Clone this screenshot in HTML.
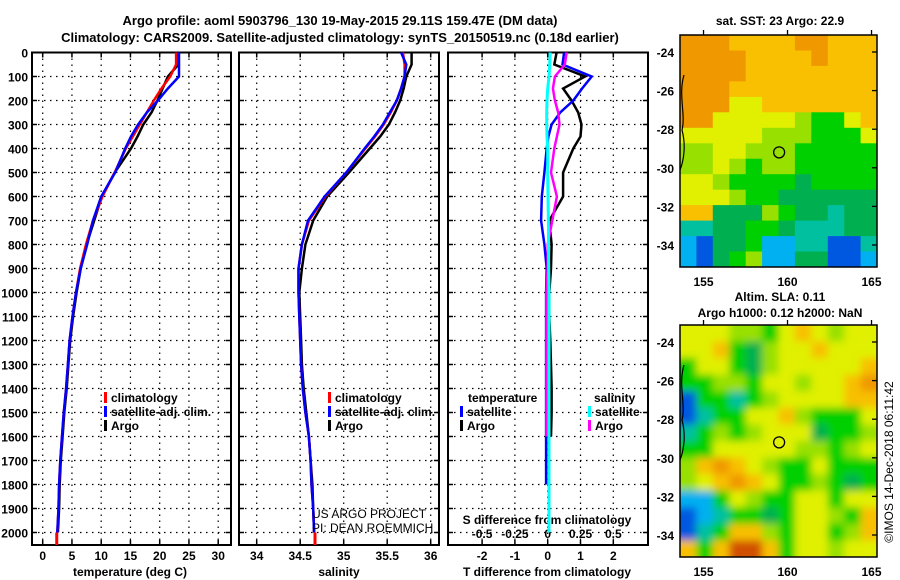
<!DOCTYPE html>
<html><head><meta charset="utf-8"><style>
body{margin:0;background:#fff;}
svg{display:block;font-family:"Liberation Sans",sans-serif;}
.t{font-weight:bold;font-size:13px;fill:#000;}
.s{font-weight:bold;font-size:12px;fill:#000;}
</style></head><body>
<svg id="fig" width="900" height="580" viewBox="0 0 900 580" xmlns="http://www.w3.org/2000/svg">
<defs>
<filter id="blur" x="-5%" y="-5%" width="110%" height="110%"><feGaussianBlur stdDeviation="4"/></filter>
<clipPath id="clipTop"><rect x="680" y="35" width="197" height="232"/></clipPath>
<clipPath id="clipBot"><rect x="680" y="325" width="197" height="232"/></clipPath>
</defs>
<text class="t" x="340" y="25" text-anchor="middle">Argo profile: aoml 5903796_130 19-May-2015 29.11S 159.47E (DM data)</text>
<text class="t" x="340" y="42" text-anchor="middle">Climatology: CARS2009. Satellite-adjusted climatology: synTS_20150519.nc (0.18d earlier)</text>
<g id="g"></g>
</svg>
<script>
// ---------- data ----------
const depths = [0,50,100,150,200,250,300,350,400,500,600,700,800,900,1000,1100,1200,1300,1400,1500,1600,1700,1800,1900,2000];
const tempClim = [22.8,22.8,21.8,20.3,19.0,17.8,16.6,15.4,14.2,12.3,10.2,8.6,7.4,6.4,5.7,5.1,4.6,4.3,4.0,3.6,3.3,3.0,2.8,2.7,2.5];
const tempSat  = [23.3,23.3,23.3,21.4,19.7,17.8,16.3,15.1,14.1,12.4,10.0,8.6,7.6,6.5,5.7,5.1,4.6,4.3,4.0,3.6,3.3,3.0,2.8,2.7,2.5];
const tempArgo = [23.2,23.2,21.4,20.5,19.6,18.6,17.2,16.2,15.1,12.3,10.1,8.8,7.5,6.5,5.8,5.2,4.7,4.4,4.1,3.7,3.4,3.1,2.9,2.8,2.6];
const salClim = [35.68,35.70,35.70,35.66,35.61,35.54,35.46,35.36,35.25,35.03,34.79,34.60,34.52,34.48,34.48,34.49,34.50,34.51,34.53,34.56,34.60,34.62,34.63,34.65,34.66];
const salSat  = [35.66,35.72,35.70,35.66,35.61,35.53,35.45,35.35,35.24,35.03,34.78,34.59,34.52,34.48,34.48,34.49,34.50,34.51,34.53,34.56,34.60,34.62,34.63,34.65,34.66];
const salArgo = [35.78,35.78,35.72,35.69,35.65,35.59,35.52,35.42,35.30,35.06,34.81,34.65,34.56,34.52,34.49,34.50,34.51,34.52,34.54,34.57,34.60,34.62,34.64,34.65,34.66];
const dTempSat  = [0.50,0.45,1.34,1.05,0.78,0.38,0.12,0.02,-0.03,-0.10,-0.18,-0.20,-0.10,-0.03,-0.05,-0.05,-0.05,-0.05,-0.05,-0.05,-0.05,-0.05,-0.05];
const dTempArgo = [0.27,0.20,1.14,0.47,0.73,0.93,1.03,1.00,0.78,0.47,0.47,0.05,0.12,0.10,0.05,0.05,0.08,0.10,0.12,0.12,0.10];
const dSalArgo  = [0.145,0.13,0.055,0.04,0.055,0.08,0.09,0.07,0.05,0.025,0.07,0.035,0.0,0.0,-0.01,-0.01,-0.01,-0.01,-0.01,-0.01,-0.01];
const dSalSat   = [0.018,0.015,0.01,0.0,-0.005,-0.008,-0.008,-0.005,0.0,0.0,0.002,0.005,0.006,0.008,0.01,0.01,0.01,0.01,0.01,0.01,0.01,0.01,0.01,0.01,0.01];
const depthTicks = [0,100,200,300,400,500,600,700,800,900,1000,1100,1200,1300,1400,1500,1600,1700,1800,1900,2000];
const tempTicks = [0,5,10,15,20,25,30];
const salTicks = [34,34.5,35,35.5,36];
const salTickLabels = ["34","34.5","35","35.5","36"];
const dTTicks = [-2,-1,0,1,2];
const dSTicks = [-0.5,-0.25,0,0.25,0.5];
const dSTickLabels = ["-0.5","-0.25","0","0.25","0.5"];
const latTicks = [-24,-26,-28,-30,-32,-34];
const lonTicks = [155,160,165];
const sstGrid = [
"OOOooooOOooo","OOOOooooOooo","OOOOoooooooo","OOOooooooooo","OOOyyooooooo",
"OOyyyyyLGGyo","yyyyyLLLGGGy","LLyyLLLGGGGG","LLyLGLLGGGGG","yyLGGGGgGGGG",
"yyyLGGgggggg","oogggLGggTgg","TTggGGgTTTgg","CBggGCCTTBBT","CBgGLCCggBBC"];
const slaGrid = [
"yyyLLGyoyLyy","yyoGgLyyoyyy","GyyGgLyyyyyo","GGLLGyyLyyoO","BGGTGLyyyyoo",
"BTGGyyoLGGGy","TGLGLyyygGGL","GGyyyyyLLGLy","LoOoyLGGyGGG","LyoOoyGGLGgG",
"CCGyLGGyyGyy","BCTGGgGyyLGo","BTGooLGyyGLo","oGoRRoGyyLyy"];
const palette = {O:"#f09800",o:"#f8c000",Y:"#f0e000",y:"#e0f000",L:"#98e000",G:"#00d000",g:"#00b050",T:"#00c0a0",C:"#00b0f0",B:"#0058e0",R:"#d05000"};

// ---------- helpers ----------
const NS="http://www.w3.org/2000/svg";
const G=document.getElementById('g');
function mk(tag,attrs,parent){const e=document.createElementNS(NS,tag);for(const k in attrs)e.setAttribute(k,attrs[k]);(parent||G).appendChild(e);return e;}
const yTop=52.5, yPer=0.24, yBot=545;
const yD=d=>yTop+d*yPer;
const xT=v=>42.7+v*5.85;
const xS=v=>256.7+(v-34)*87;
const xDT=v=>547.7+v*32.8;
const xDS=v=>547.7+v*131.2;

function panel(x0,x1,name,xs,vTicks){
  for(const v of vTicks){const x=xs(v);
    const l=mk('line',{x1:x,x2:x,y1:yTop,y2:yBot,stroke:'#000','stroke-width':1.2,'stroke-dasharray':'1.5,4.5'});
    
    mk('line',{x1:x,x2:x,y1:yBot,y2:yBot-5,stroke:'#000','stroke-width':1.5});
    mk('line',{x1:x,x2:x,y1:yTop,y2:yTop+5,stroke:'#000','stroke-width':1.5});}
  for(const d of depthTicks){if(d===0)continue;const y=yD(d);
    const l=mk('line',{x1:x0,x2:x1,y1:y,y2:y,stroke:'#000','stroke-width':1.2,'stroke-dasharray':'1.5,4.5'});
    
    mk('line',{x1:x0,x2:x0+5,y1:y,y2:y,stroke:'#000','stroke-width':1.5});
    mk('line',{x1:x1-5,x2:x1,y1:y,y2:y,stroke:'#000','stroke-width':1.5});}
  const r=mk('rect',{x:x0,y:yTop,width:x1-x0,height:yBot-yTop,fill:'none',stroke:'#000','stroke-width':2});
  
}
function prof(xs,vals,color,name,w){
  let p='';vals.forEach((v,i)=>{p+=(i?'L':'M')+xs(v).toFixed(1)+','+yD(depths[i]).toFixed(1);});
  const e=mk('path',{d:p,fill:'none',stroke:color,'stroke-width':w||2.5,'stroke-linejoin':'miter'});
  
}
function txt(x,y,s,cls,anchor,name){const e=mk('text',{x:x,y:y,class:cls,'text-anchor':anchor||'start'});e.textContent=s;
  return e;}

// panels
panel(32,231,'temperature-panel',xT,tempTicks);
panel(239,439,'salinity-panel',xS,salTicks);
panel(448,648,'difference-panel',xDT,dTTicks);

// y labels
for(const d of depthTicks){txt(28,yD(d)+5,String(d),'s','end','depth-tick-label');}
// x labels
tempTicks.forEach(v=>txt(xT(v),560,String(v),'s','middle','temp-tick-label'));
salTicks.forEach((v,i)=>txt(xS(v),560,salTickLabels[i],'s','middle','salinity-tick-label'));
dTTicks.forEach(v=>txt(xDT(v),560,String(v),'s','middle','tdiff-tick-label'));
dSTicks.forEach((v,i)=>txt(xDS(v),538,dSTickLabels[i],'s','middle','sdiff-tick-label'));
txt(130,576,'temperature (deg C)','s','middle','temperature-axis-title');
txt(339,576,'salinity','s','middle','salinity-axis-title');
txt(547,576,'T difference from climatology','s','middle','tdiff-axis-title');
txt(547,524,'S difference from climatology','s','middle','sdiff-axis-title');

// profiles
prof(xT,tempArgo,'#000','temp-argo-line');
prof(xT,tempClim,'#f00','temp-clim-line');
prof(xT,tempSat,'#00f','temp-sat-line');
mk('line',{x1:xT(2.4),x2:xT(2.4),y1:yD(2000),y2:yBot,stroke:'#f00','stroke-width':3});
prof(xS,salArgo,'#000','salinity-argo-line');
prof(xS,salClim,'#f00','salinity-clim-line');
prof(xS,salSat,'#00f','salinity-sat-line');
mk('line',{x1:xS(34.67),x2:xS(34.67),y1:yD(2000),y2:yBot,stroke:'#f00','stroke-width':3});
prof(xDT,dTempArgo,'#000','tdiff-argo-line');
prof(xDT,dTempSat,'#00f','tdiff-sat-line');
prof(xDS,dSalArgo,'#f0f','sdiff-argo-line');
prof(xDS,dSalSat,'#0ff','sdiff-sat-line',3);

// legends
function leg(x,y,c,s,name){mk('rect',{x:x,y:y-10,width:3,height:11,fill:c});txt(x+7,y,s,'s','start',name);}
leg(104,402,'#f00','climatology','legend-climatology');
leg(104,416,'#00f','satellite-adj. clim.','legend-satellite-adj');
leg(104,430,'#000','Argo','legend-argo');
leg(328,402,'#f00','climatology','legend2-climatology');
leg(328,416,'#00f','satellite-adj. clim.','legend2-satellite-adj');
leg(328,430,'#000','Argo','legend2-argo');
txt(468,402,'temperature','s','start','legend-temperature-heading');
leg(460,416,'#00f','satellite','legend-t-satellite');
leg(460,430,'#000','Argo','legend-t-argo');
txt(594,402,'salinity','s','start','legend-salinity-heading');
leg(588,416,'#0ff','satellite','legend-s-satellite');
leg(588,430,'#f0f','Argo','legend-s-argo');
const c1=txt(312,518,'US ARGO PROJECT','s','start','credit-project');c1.setAttribute('style','font-weight:normal;font-size:12px');
const c2=txt(312,532,'PI: DEAN ROEMMICH','s','start','credit-pi');c2.setAttribute('style','font-weight:normal;font-size:12px');

// maps
function map(y0,grid,clip,name,blur){
  const g=mk('g',{'clip-path':'url(#'+clip+')'});
  
  const inner=mk('g',blur?{filter:'url(#blur)'}:{},g);
  const cw=197/12, ch=232/grid.length;
  grid.forEach((row,r)=>{for(let c=0;c<12;c++){mk('rect',{x:(680+c*cw-(blur?8:0)*(c==0)).toFixed(1),y:(y0+r*ch-(blur&&r==0?8:0)).toFixed(1),width:(cw+0.6+(blur?8:0)*(c==0||c==11)).toFixed(1),height:(ch+0.6+(blur&&(r==grid.length-1||r==0)?8:0)).toFixed(1),fill:palette[row[c]]},inner);}});
  mk('path',{d:`M684,${y0+40} C678,${y0+60} 686,${y0+80} 682,${y0+95} C686,${y0+110} 684,${y0+125} 680,${y0+135}`,fill:'none',stroke:'#000','stroke-width':1.2},g);
  const lat0=y0+17;
  const cx=680+(159.5-153.6)*16.8, cy=lat0+5.2*19.3;
  const ci=mk('circle',{cx:cx,cy:cy,r:5.5,fill:'none',stroke:'#000','stroke-width':1.3});
  
  mk('rect',{x:680,y:y0,width:197,height:232,fill:'none',stroke:'#000','stroke-width':1.5});
  latTicks.forEach((v,i)=>{const y=lat0+i*38.6;
    mk('line',{x1:877,x2:872,y1:y,y2:y,stroke:'#000','stroke-width':1.3});
    txt(674,y+5,String(v),'s','end',name+'-lat-label');});
  lonTicks.forEach(v=>{const x=680+(v-153.6)*16.8;
    mk('line',{x1:x,x2:x,y1:y0,y2:y0-5,stroke:'#000','stroke-width':1.3});
    txt(x,y0+232+19,String(v),'s','middle',name+'-lon-label');});
}
map(35,sstGrid,'clipTop','sst-map',false);
map(325,slaGrid,'clipBot','sla-map',true);
txt(780,25,'sat. SST: 23 Argo: 22.9','s','middle','sst-map-title');
txt(780,301,'Altim. SLA: 0.11','s','middle','sla-map-title');
txt(780,317,'Argo h1000: 0.12 h2000: NaN','s','middle','sla-map-subtitle');
const v=txt(0,0,'©IMOS 14-Dec-2018 06:11:42','s','middle','timestamp');
v.setAttribute('style','font-weight:normal;font-size:12px');
v.setAttribute('transform','translate(893,462) rotate(-90)');
</script>
</body></html>
